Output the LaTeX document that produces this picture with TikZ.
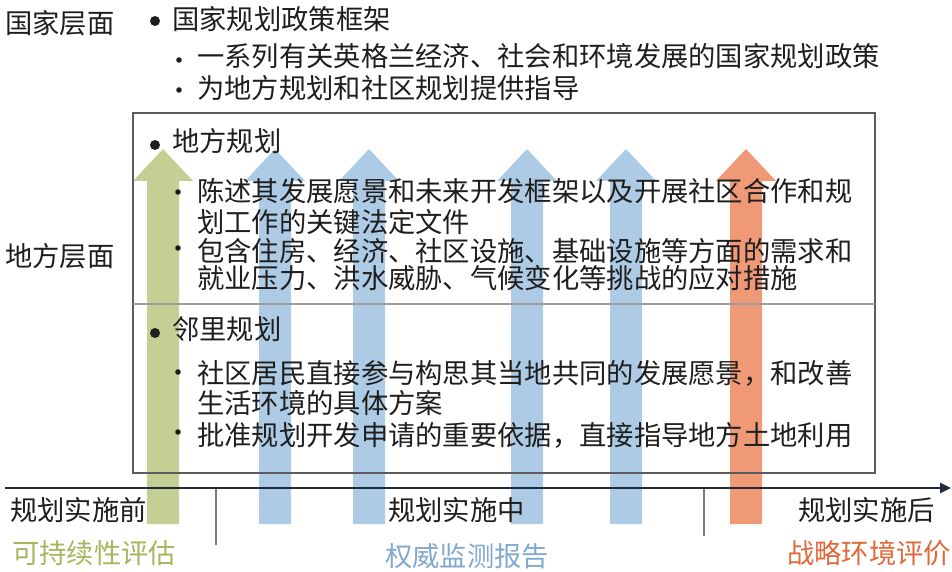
\documentclass[tikz,border=0pt]{standalone}
\usepackage{fontspec}
\newfontfamily\cjk{Noto Sans CJK SC}
\usetikzlibrary{arrows.meta}
\definecolor{tinte}{HTML}{1E1E1E}
\definecolor{gruen}{HTML}{C4CF94}
\definecolor{blau}{HTML}{AECBE5}
\definecolor{orange}{HTML}{EF9977}
\definecolor{gruentext}{HTML}{A6B65E}
\definecolor{blautext}{HTML}{80A9D0}
\definecolor{orangetext}{HTML}{E2683A}
\definecolor{rahmen}{HTML}{5E5A5E}
\definecolor{achse}{HTML}{1F2B3D}
\begin{document}
\begin{tikzpicture}[x=1pt,y=-1pt,>={Triangle[length=11pt,width=10pt]},
  schrift/.style={anchor=base west,inner sep=0pt,font=\cjk\fontsize{27.3}{32}\selectfont,text=tinte}]
\useasboundingbox (0,0) rectangle (952,572);
\def\spitze{149}
\def\kopf{181}
\def\fuss{524}
\def\pfeil#1#2{\fill[#2] (#1-16,\fuss) -- (#1-16,\kopf) -- (#1-30,\kopf) -- (#1,\spitze) -- (#1+30,\kopf) -- (#1+16,\kopf) -- (#1+16,\fuss) -- cycle;}
\pfeil{163}{gruen}
\foreach \m in {275,369,527,626}{
	\pfeil{\m}{blau}
}
\pfeil{746}{orange}
\draw[rahmen,line width=1.8pt] (133,113) rectangle (875,473);
\draw[rahmen!60,line width=1.2pt] (133,304) -- (875,304);
\coordinate (t0) at (5,488);
\coordinate (t1) at (951,488);
\draw[achse,line width=2.6pt,->] (t0) -- (t1);
\draw[rahmen!80,line width=1.4pt] (216,489) -- (216,545);
\draw[rahmen!80,line width=1.4pt] (704,489) -- (704,536);
\foreach \x/\y/\t [count=\i] in {
	5/24/国家层面,
	172/20/国家规划政策框架,
	197/57/一系列有关英格兰经济、社会和环境发展的国家规划政策,
	197/89/为地方规划和社区规划提供指导,
	172/142/地方规划,
	197/191/陈述其发展愿景和未来开发框架以及开展社区合作和规,
	197/222/划工作的关键法定文件,
	197/251/包含住房、经济、社区设施、基础设施等方面的需求和,
	197/278/就业压力、洪水威胁、气候变化等挑战的应对措施,
	5/256/地方层面,
	172/329/邻里规划,
	197/373/社区居民直接参与构思其当地共同的发展愿景，和改善,
	197/403/生活环境的具体方案,
	197/435/批准规划开发申请的重要依据，直接指导地方土地利用,
	10/510/规划实施前,
	388/510/规划实施中,
	798/510/规划实施后}{
	\node[schrift] (z\i) at (\x,\y+10) {\t};
}
\node[schrift,text=gruentext] (e1) at (12,563) {可持续性评估};
\node[schrift,text=blautext] (e2) at (385,566) {权威监测报告};
\node[schrift,text=orangetext] (e3) at (787,563) {战略环境评价};
\foreach \x/\y in {155/21,155/145,155/333}{
	\fill[tinte] (\x,\y) circle[radius=5pt];
}
\foreach \x/\y in {179/60,179/90,178/192,178/248,178/372,178/432}{
	\fill[tinte] (\x,\y) circle[radius=2.8pt];
}
\end{tikzpicture}
\end{document}
